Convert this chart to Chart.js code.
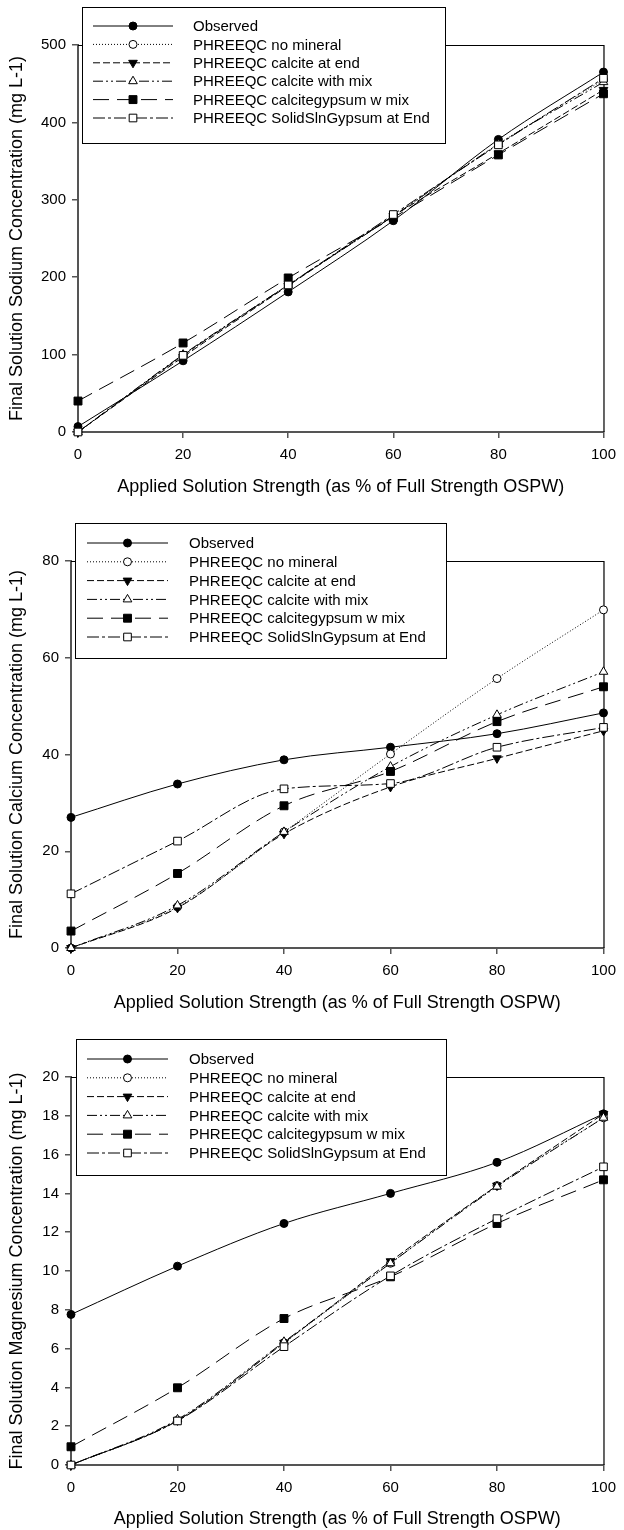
<!doctype html>
<html>
<head>
  <meta charset="utf-8" />
  <title>Final solution Na, Ca, Mg vs applied OSPW strength</title>
  <style>
    body { margin: 0; background: #fff; }
    .wrap { position: relative; width: 624px; height: 1530px; }
    canvas { position: absolute; left: 0; }
  </style>
</head>
<body>
  <div class="wrap">
    <canvas id="na" width="624" height="500" style="top:0"></canvas>
    <canvas id="ca" width="624" height="515" style="top:500px"></canvas>
    <canvas id="mg" width="624" height="515" style="top:1015px"></canvas>
  </div>

  <script src="https://cdn.jsdelivr.net/npm/chart.js@4.4.1/dist/chart.umd.min.js"></script>
  <script>
    // x values: applied solution strength, % of full strength OSPW
    const strength = [0, 20, 40, 60, 80, 100];
    const seriesNames = [
      'Observed',
      'PHREEQC no mineral',
      'PHREEQC calcite at end',
      'PHREEQC calcite with mix',
      'PHREEQC calcitegypsum w mix',
      'PHREEQC SolidSlnGypsum at End'
    ];

    // sodium, mg L-1
    const naObserved      = [7, 92, 181, 273, 378, 465];
    const naNoMineral     = [0, 99, 190, 279, 372, 455];
    const naCalciteEnd    = [0, 97, 189, 279, 360, 442];
    const naCalciteMix    = [0, 100, 190, 279, 372, 452];
    const naCalciteGypMix = [40, 115, 199, 277, 358, 437];
    const naSolidSln      = [0, 99, 190, 281, 371, 457];

    // calcium, mg L-1
    const caObserved      = [27, 33.9, 38.9, 41.5, 44.3, 48.6];
    const caNoMineral     = [0, 8.5, 24, 40.1, 55.7, 69.9];
    const caCalciteEnd    = [0, 8.3, 23.6, 33.3, 39.2, 44.9];
    const caCalciteMix    = [0, 8.8, 24, 37.5, 48.2, 57.1];
    const caCalciteGypMix = [3.5, 15.4, 29.4, 36.5, 46.8, 54];
    const caSolidSln      = [11.2, 22.1, 32.9, 34, 41.5, 45.6];

    // magnesium, mg L-1
    const mgObserved      = [7.76, 10.25, 12.45, 14.0, 15.6, 18.1];
    const mgNoMineral     = [0, 2.3, 6.3, 10.4, 14.4, 17.9];
    const mgCalciteEnd    = [0, 2.3, 6.3, 10.5, 14.4, 18.1];
    const mgCalciteMix    = [0, 2.35, 6.35, 10.4, 14.35, 17.9];
    const mgCalciteGypMix = [0.94, 3.98, 7.55, 9.7, 12.45, 14.7];
    const mgSolidSln      = [0, 2.27, 6.1, 9.75, 12.7, 15.37];

    const FONT = '"Liberation Sans", Arial, sans-serif';

    // line / marker look per series (same order as seriesNames)
    const styles = [
      { dash: [], point: 'circle', fill: '#000', radius: 4 },
      { dash: [1, 2], point: 'circle', fill: '#fff', radius: 4 },
      { dash: [7, 3], point: 'triangle', rotation: 180, fill: '#000', radius: 5 },
      { dash: [10, 3, 2, 3, 2, 3], point: 'triangle', rotation: 0, fill: '#fff', radius: 5 },
      { dash: [16, 8], point: 'rect', fill: '#000', radius: 5.6 },
      { dash: [12, 3, 3, 3], point: 'rect', fill: '#fff', radius: 5.4 }
    ];

    function marker(ctx, s, x, y) {
      const r = s.radius;
      ctx.beginPath();
      if (s.point === 'circle') {
        ctx.arc(x, y, r, 0, Math.PI * 2);
      } else if (s.point === 'rect') {
        const h = r * Math.SQRT1_2;
        ctx.rect(x - h, y - h, 2 * h, 2 * h);
      } else {
        const d = s.rotation ? -1 : 1;
        ctx.moveTo(x, y - d * r);
        ctx.lineTo(x + r * 0.866, y + d * r / 2);
        ctx.lineTo(x - r * 0.866, y + d * r / 2);
        ctx.closePath();
      }
      ctx.setLineDash([]);
      ctx.fillStyle = s.fill;
      ctx.fill();
      ctx.lineWidth = 1;
      ctx.strokeStyle = '#000';
      ctx.stroke();
    }

    // top + right frame lines, then the boxed legend over everything
    const framePlugin = {
      id: 'frame',
      beforeDatasetsDraw(chart) {
        const { ctx, chartArea: a } = chart;
        ctx.save();
        ctx.strokeStyle = '#000';
        ctx.lineWidth = 1.2;
        ctx.beginPath();
        ctx.moveTo(a.left, a.top + 0.5);
        ctx.lineTo(a.right + 0.5, a.top + 0.5);
        ctx.lineTo(a.right + 0.5, a.bottom);
        ctx.stroke();
        ctx.restore();
      },
      afterDraw(chart) {
        const box = chart.options.plugins.frame.box;
        const ctx = chart.ctx;
        ctx.save();
        ctx.fillStyle = '#fff';
        ctx.fillRect(box.left, box.top, box.right - box.left, box.bottom - box.top);
        ctx.strokeStyle = '#000';
        ctx.lineWidth = 1;
        ctx.strokeRect(box.left + 0.5, box.top + 0.5, box.right - box.left, box.bottom - box.top);
        ctx.font = '15px ' + FONT;
        ctx.textBaseline = 'middle';
        seriesNames.forEach((name, i) => {
          const y = box.row0 + i * box.gap;
          const s = styles[i];
          ctx.beginPath();
          ctx.setLineDash(s.dash);
          ctx.lineWidth = 1;
          ctx.strokeStyle = '#000';
          ctx.moveTo(box.line0, y);
          ctx.lineTo(box.line1, y);
          ctx.stroke();
          marker(ctx, s, (box.line0 + box.line1) / 2, y);
          ctx.fillStyle = '#000';
          ctx.fillText(name, box.text, y + 1);
        });
        ctx.restore();
      }
    };

    function makeChart(id, cfg) {
      const lists = cfg.values;
      const datasets = lists.map((vals, i) => {
        const s = styles[i];
        return {
          label: seriesNames[i],
          data: strength.map((x, k) => ({ x, y: vals[k] })),
          borderColor: '#000',
          borderWidth: 1,
          borderDash: s.dash,
          pointStyle: s.point,
          rotation: s.rotation || 0,
          pointRadius: s.radius,
          pointBackgroundColor: s.fill,
          pointBorderColor: '#000',
          pointBorderWidth: 1,
          cubicInterpolationMode: 'monotone',
          clip: false
        };
      }).reverse(); // observed drawn last, on top

      const canvas = document.getElementById(id);
      return new Chart(canvas.getContext('2d'), {
        type: 'line',
        data: { datasets },
        plugins: [framePlugin],
        options: {
          responsive: false,
          animation: false,
          devicePixelRatio: 1,
          layout: { padding: { left: 0, top: cfg.top, right: 624 - cfg.right, bottom: 0 } },
          plugins: {
            legend: { display: false },
            tooltip: { enabled: false },
            frame: { box: cfg.legend }
          },
          scales: {
            x: {
              type: 'linear', min: 0, max: 100,
              ticks: { stepSize: 20, padding: 8, color: '#000', font: { family: FONT, size: 15 } },
              grid: { drawOnChartArea: false, drawTicks: true, tickLength: 6, color: '#555', lineWidth: 1.5 },
              border: { color: '#555', width: 2 },
              title: {
                display: true, text: 'Applied Solution Strength (as % of Full Strength OSPW)',
                color: '#000', font: { family: FONT, size: 18 }, padding: { top: 0, bottom: cfg.titlePad }
              },
              afterFit: (scale) => { scale.height = canvas.height - cfg.bottom; }
            },
            y: {
              min: 0, max: cfg.yMax,
              ticks: { stepSize: cfg.yStep, padding: 6, color: '#000', font: { family: FONT, size: 15 } },
              grid: { drawOnChartArea: false, drawTicks: true, tickLength: 6, color: '#555', lineWidth: 1.5 },
              border: { color: '#555', width: 2 },
              title: {
                display: true, text: cfg.yTitle,
                color: '#000', font: { family: FONT, size: 18 }, padding: { top: 6, bottom: 0 }
              },
              afterFit: (scale) => { scale.width = cfg.left; }
            }
          }
        }
      });
    }

    makeChart('na', {
      values: [naObserved, naNoMineral, naCalciteEnd, naCalciteMix, naCalciteGypMix, naSolidSln],
      yMax: 500, yStep: 100, yTitle: 'Final Solution Sodium Concentration (mg L-1)',
      left: 78, right: 606, top: 45, bottom: 432, titlePad: 2,
      legend: { left: 82, right: 445, top: 7, bottom: 143, row0: 26, gap: 18.4, line0: 93, line1: 173, text: 193 }
    });

    makeChart('ca', {
      values: [caObserved, caNoMineral, caCalciteEnd, caCalciteMix, caCalciteGypMix, caSolidSln],
      yMax: 80, yStep: 20, yTitle: 'Final Solution Calcium Concentration (mg L-1)',
      left: 71, right: 612, top: 61, bottom: 448, titlePad: 1,
      legend: { left: 75, right: 446, top: 23, bottom: 158, row0: 43, gap: 18.8, line0: 87, line1: 168, text: 189 }
    });

    makeChart('mg', {
      values: [mgObserved, mgNoMineral, mgCalciteEnd, mgCalciteMix, mgCalciteGypMix, mgSolidSln],
      yMax: 20, yStep: 2, yTitle: 'Final Solution Magnesium Concentration (mg L-1)',
      left: 71, right: 611, top: 62, bottom: 450, titlePad: 0,
      legend: { left: 76, right: 446, top: 24, bottom: 160, row0: 44, gap: 18.8, line0: 87, line1: 168, text: 189 }
    });
  </script>
</body>
</html>
